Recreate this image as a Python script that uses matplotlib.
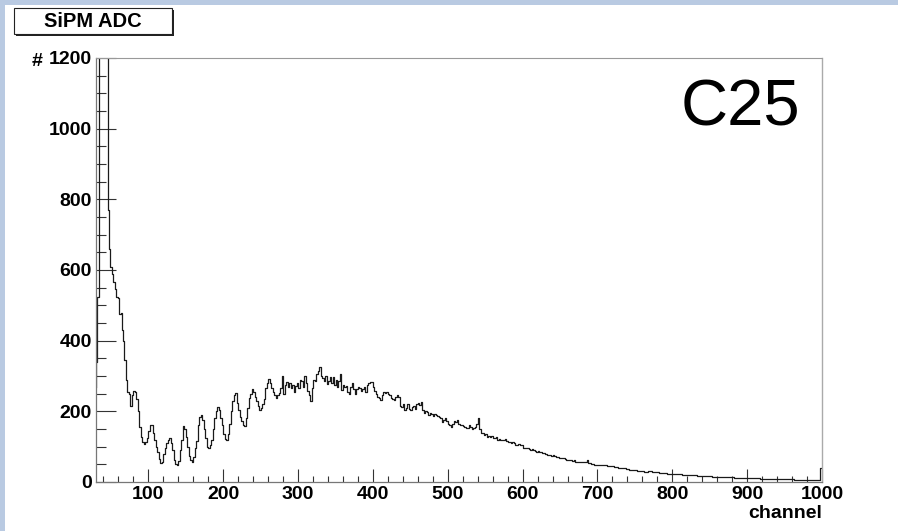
import numpy as np
import matplotlib
matplotlib.use('Agg')
import matplotlib.pyplot as plt
from matplotlib.patches import Rectangle
from matplotlib.ticker import MultipleLocator

plt.rcParams['font.family'] = ['Liberation Sans', 'DejaVu Sans']

# pedestal region (bins above 1200 are off scale in the original)
channel_a = [30, 31, 32, 33, 34, 36, 40, 44, 46, 47, 48, 50, 52, 54, 56, 58, 60, 62, 64, 66, 67, 69]
counts_a = [270, 340, 525, 525, 1500, 3000, 4000, 2500, 1400, 770, 660, 608, 590, 565, 545, 525, 520, 475, 478, 430, 400, 345]

# photo-electron peaks and main bump, every 2 channels 71..699
channel_b = np.arange(71, 700, 2)
counts_b = [
    290, 255, 250, 215, 245, 258, 255, 235, 200, 157,
    128, 114, 108, 112, 125, 145, 162, 160, 138, 118,
    100, 85, 65, 55, 58, 80, 95, 110, 119, 124,
    110, 90, 62, 50, 48, 60, 90, 118, 158, 150,
    128, 100, 75, 62, 57, 70, 95, 115, 160, 185,
    190, 175, 150, 125, 100, 95, 105, 120, 150, 180,
    200, 213, 205, 180, 160, 135, 122, 118, 135, 165,
    200, 230, 245, 251, 225, 205, 185, 172, 160, 158,
    182, 210, 238, 250, 262, 255, 240, 230, 215, 205,
    210, 220, 235, 265, 280, 292, 280, 265, 255, 245,
    238, 245, 252, 265, 300, 250, 275, 282, 270, 280,
    265, 275, 255, 272, 280, 265, 290, 285, 270, 300,
    280, 258, 245, 228, 265, 290, 285, 305, 315, 325,
    300, 295, 285, 300, 278, 285, 298, 280, 298, 275,
    290, 270, 285, 305, 260, 275, 268, 272, 255, 250,
    268, 280, 262, 250, 262, 270, 265, 258, 262, 270,
    255, 274, 280, 284, 282, 268, 258, 248, 240, 238,
    232, 245, 256, 252, 255, 250, 245, 238, 236, 232,
    240, 246, 240, 215, 212, 220, 204, 210, 220, 208,
    204, 212, 214, 208, 220, 223, 218, 227, 205, 195,
    202, 199, 190, 196, 193, 188, 192, 190, 186, 185,
    180, 171, 176, 180, 172, 165, 162, 157, 165, 172,
    171, 175, 165, 162, 160, 158, 157, 154, 152, 160,
    157, 150, 152, 155, 165, 180, 150, 138, 140, 133,
    136, 128, 130, 128, 130, 125, 124, 126, 119, 122,
    119, 120, 118, 121, 115, 114, 112, 110, 112, 110,
    106, 105, 108, 105, 104, 97, 95, 97, 95, 92,
    90, 92, 90, 88, 85, 87, 85, 84, 82, 81,
    78, 76, 77, 76, 75, 76, 74, 72, 71, 69,
    67, 68, 67, 64, 63, 62, 63, 62, 60, 62,
    58, 57, 57, 58, 57, 56, 57, 58, 62, 55,
    53, 52, 50, 48, 49,
]

# tail, every 5 channels
channel_c = np.arange(700, 1000, 5)
counts_c = [
    48, 47, 48, 46, 45, 43, 40, 39, 36, 35,
    34, 31, 30, 29, 30, 29, 27, 26, 25, 24,
    24, 23, 22, 21, 20, 20, 19, 17, 17, 16,
    16, 15, 14, 14, 14, 13, 13, 12, 11, 11,
    11, 10, 10, 10, 9, 9, 9, 8, 8, 8,
    8, 8, 8, 7, 7, 7, 7, 6, 6, 6,
]
last_channel = [999.5]
last_count = [40]

x = np.concatenate([channel_a, channel_b, channel_c, last_channel])
y = np.concatenate([counts_a, counts_b, counts_c, last_count])

W, H = 898, 531
fig = plt.figure(figsize=(W / 100, H / 100), dpi=100)
fig.patch.set_facecolor('white')

# light blue slide border
fig.patches.append(Rectangle((0, 1 - 5 / H), 1, 5 / H, transform=fig.transFigure,
                             facecolor='#b9cae2', edgecolor='none', zorder=0))
fig.patches.append(Rectangle((0, 0), 5 / W, 1, transform=fig.transFigure,
                             facecolor='#b9cae2', edgecolor='none', zorder=0))

ax = fig.add_axes([96 / W, (H - 482) / H, (822 - 96) / W, (482 - 58) / H])
ax.step(x, y, where='mid', color='#1a1a1a', lw=0.9)

ax.set_xlim(30, 1000)
ax.set_ylim(0, 1200)
ax.xaxis.set_major_locator(MultipleLocator(100))
ax.xaxis.set_minor_locator(MultipleLocator(20))
ax.yaxis.set_major_locator(MultipleLocator(200))
ax.yaxis.set_minor_locator(MultipleLocator(50))
ax.tick_params(axis='x', which='major', direction='in', length=9.4, width=0.8, color='#333', pad=3)
ax.tick_params(axis='x', which='minor', direction='in', length=4.3, width=0.8, color='#333')
ax.tick_params(axis='y', which='major', direction='in', length=14.4, width=0.8, color='#333', pad=3)
ax.tick_params(axis='y', which='minor', direction='in', length=7.2, width=0.8, color='#333')
for lab in ax.get_xticklabels() + ax.get_yticklabels():
    lab.set_fontweight('bold')
    lab.set_fontsize(14)

for side in ['left', 'bottom']:
    ax.spines[side].set_color('#777')
    ax.spines[side].set_linewidth(0.9)
ax.spines['top'].set_color('#999')
ax.spines['top'].set_linestyle((0, (1, 1)))
ax.spines['top'].set_linewidth(0.8)
ax.spines['right'].set_color('#aaa')
ax.spines['right'].set_linewidth(1.0)

ax.set_xlabel('channel', loc='right', fontsize=14, fontweight='bold', labelpad=1)
ax.set_ylabel('#', rotation=0, fontsize=14, fontweight='bold', ha='center', va='center')
ax.yaxis.set_label_coords((37 - 96) / 726, (482 - 62) / 424)

fig.text(800 / W, 1 - 125 / H, 'C25', ha='right', va='baseline', fontsize=47)

# title box with shadow
fig.patches.append(Rectangle((16 / W, 1 - 36 / H), 158 / W, 26 / H, transform=fig.transFigure,
                             facecolor='#222', edgecolor='none', zorder=1))
fig.patches.append(Rectangle((14 / W, 1 - 34 / H), 158 / W, 26 / H, transform=fig.transFigure,
                             facecolor='white', edgecolor='#222', lw=0.8, zorder=2))
fig.text(93 / W, 1 - 21.5 / H, 'SiPM ADC', ha='center', va='center', fontsize=14.5,
         fontweight='bold', zorder=3)

fig.savefig('out.png', dpi=100)
